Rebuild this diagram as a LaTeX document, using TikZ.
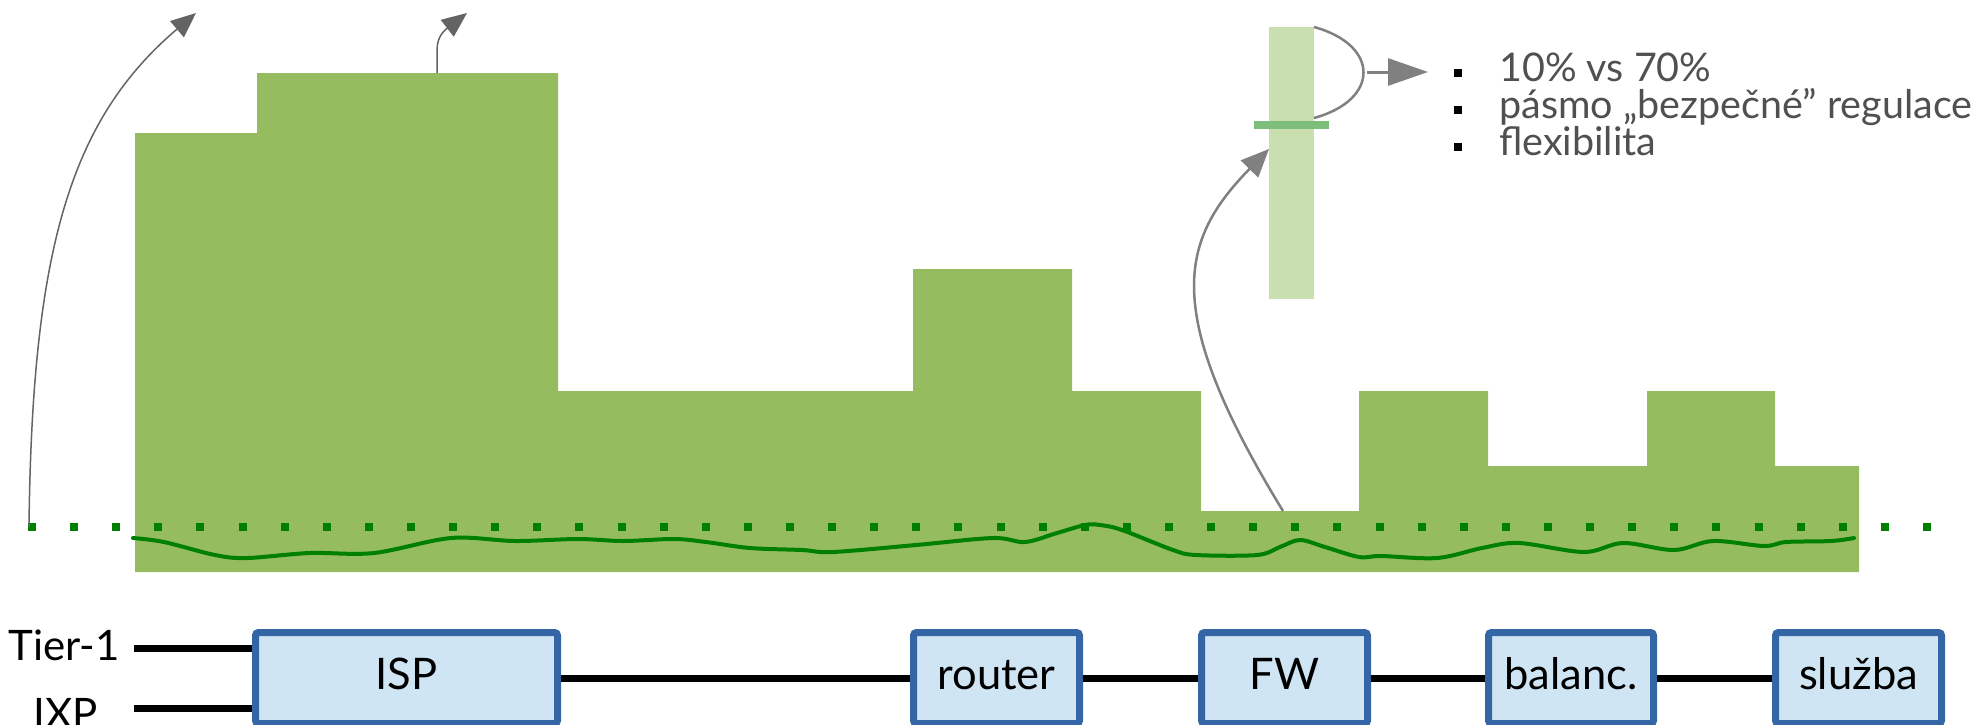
\documentclass[tikz,border=0pt]{standalone}
\usepackage{fontspec}
\setmainfont{Lato}
\usetikzlibrary{arrows.meta}
\definecolor{barg}{HTML}{95BD5F}
\definecolor{lightg}{HTML}{CADFB0}
\definecolor{tickg}{HTML}{7DBE7B}
\definecolor{dotg}{HTML}{008000}
\definecolor{boxfill}{HTML}{CFE5F3}
\definecolor{boxline}{HTML}{3465A4}
\definecolor{arrgray}{HTML}{808080}
\definecolor{darkarr}{HTML}{646464}
\definecolor{txtgray}{HTML}{505050}
\tikzset{
  netbox/.style={draw=boxline, fill=boxfill, line width=7pt, rounded corners=3pt,
    minimum height=91pt, inner sep=0pt, text height=31pt, text depth=8pt,
    font=\fontsize{43.5}{43.5}\selectfont},
  wire/.style={line width=7pt, black},
  sidelabel/.style={anchor=base, inner sep=0pt, font=\fontsize{42}{42}\selectfont},
  bullettext/.style={anchor=base west, inner sep=0pt, text=txtgray, font=\fontsize{39.5}{39.5}\selectfont},
  bulletsq/.style={fill=black},
  thinarrow/.style={draw=darkarr, line width=1.5pt, -{Triangle[length=25pt,width=21pt]}},
  grayarrow/.style={draw=arrgray, line width=2.5pt, -{Triangle[length=28pt,width=24pt]}},
}
\begin{document}
\begin{tikzpicture}[x=1pt,y=-1pt]
\useasboundingbox (0,0) rectangle (1982,724);
% bars
\fill[barg] (135,572) -- (135,133) -- (257,133) -- (257,73) -- (558,73) -- (558,391)
  -- (913,391) -- (913,269) -- (1072,269) -- (1072,391) -- (1201,391) -- (1201,511)
  -- (1359,511) -- (1359,391) -- (1488,391) -- (1488,466) -- (1647,466) -- (1647,391)
  -- (1775,391) -- (1775,466) -- (1859,466) -- (1859,572) -- cycle;
% dotted line
\draw[dotg, line width=8pt, dash pattern=on 8pt off 34.11pt] (28,527) -- (1935,527);
% wave
\draw[dotg, line width=4pt, line cap=round] plot[smooth, tension=0.55] coordinates {
 (133,538) (164,542) (215,555) (247,558) (310,553) (374,553) (451,538) (515,541)
 (578,539) (623,541) (674,539) (706,542) (750,548) (802,550) (833,552) (916,545)
 (993,538) (1025,542) (1057,533) (1085,525) (1100,525) (1122,530) (1173,550)
 (1196,555) (1257,555) (1280,547) (1300,540) (1325,547) (1359,557) (1381,556)
 (1437,558) (1482,548) (1519,543) (1584,552) (1623,543) (1674,550) (1713,541)
 (1764,546) (1786,542) (1831,541) (1854,538)};
% light bar and tick
\fill[lightg] (1269,27) rectangle (1314,299);
\fill[tickg] (1254,121) rectangle (1329,129);
% bracket
\coordinate (brA) at (1314,27);
\coordinate (brB) at (1314,118);
\draw[arrgray, line width=2.5pt] (brA) .. controls (1380,45) and (1380,100) .. (brB);
\coordinate (bs) at (1367,72);
\coordinate (be) at (1428,72);
\draw[draw=arrgray, line width=3pt, -{Triangle[length=40pt,width=27pt]}] (bs) -- (be);
% arrows
\coordinate (a1s) at (29,527);
\coordinate (a1e) at (196,13);
\draw[thinarrow] (a1s) .. controls (32,250) and (70,120) .. (a1e);
\coordinate (a2s) at (437,73);
\coordinate (a2m) at (437,50);
\coordinate (a2e) at (467,13);
\draw[thinarrow] (a2s) -- (a2m) .. controls (437,36) and (445,30) .. (a2e);
\coordinate (a3s) at (1283,511);
\coordinate (a3e) at (1269,149);
\draw[grayarrow] (a3s) .. controls (1160,310) and (1180,240) .. (a3e);
% bullets
\fill[bulletsq] (1454,69) rectangle (1462,77);
\fill[bulletsq] (1454,106) rectangle (1462,114);
\fill[bulletsq] (1454,143) rectangle (1462,151);
\node[bullettext] (b1) at (1499,81) {10\% vs 70\%};
\node[bullettext] (b2) at (1499,118) {pásmo „bezpečné” regulace};
\node[bullettext] (b3) at (1499,155) {flexibilita};
% bottom network
\node[netbox, minimum width=302pt] (isp) at (406.5,678) {ISP};
\node[netbox, minimum width=166pt] (router) at (996.5,678) {router};
\node[netbox, minimum width=166pt] (fw) at (1284.5,678) {FW};
\node[netbox, minimum width=165pt] (bal) at (1571,678) {balanc.};
\node[netbox, minimum width=166pt] (sluzba) at (1858.5,678) {služba};
\node[sidelabel] (tier) at (64,660) {Tier-1};
\node[sidelabel] (ixp) at (66,728) {IXP};
\coordinate (t1) at (134,648);
\coordinate (ix) at (134,708);
\draw[wire] (t1) -- (t1 -| isp.west);
\draw[wire] (ix) -- (ix -| isp.west);
\draw[wire] (isp.east) -- (router.west);
\draw[wire] (router.east) -- (fw.west);
\draw[wire] (fw.east) -- (bal.west);
\draw[wire] (bal.east) -- (sluzba.west);
\end{tikzpicture}
\end{document}
